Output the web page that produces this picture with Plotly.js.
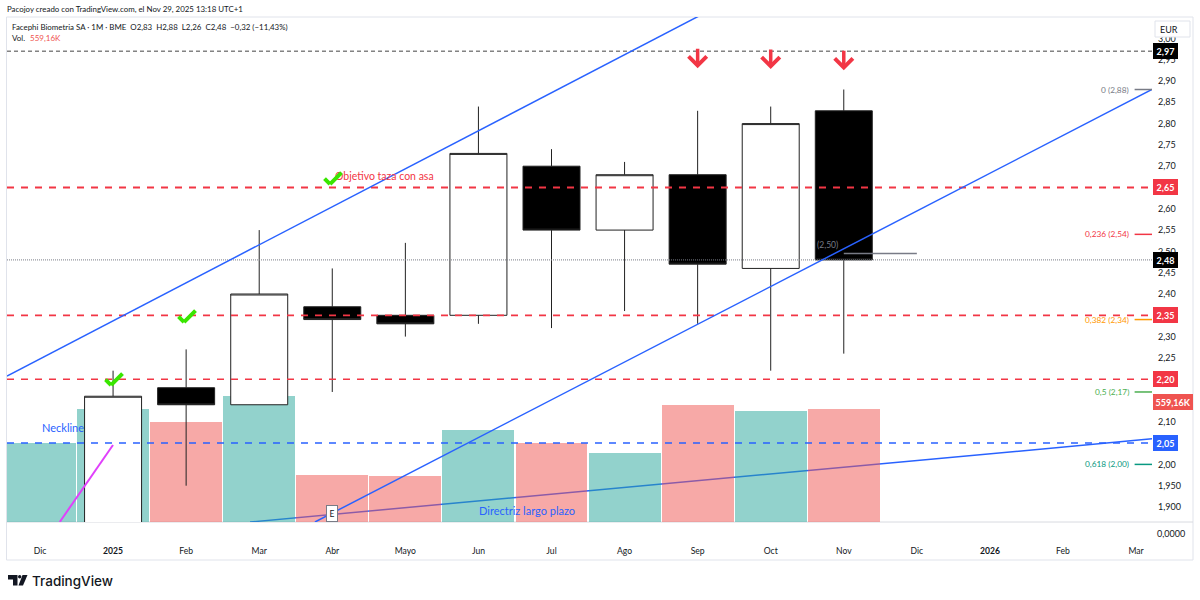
<!DOCTYPE html>
<html><head><meta charset="utf-8">
<script src="https://cdn.plot.ly/plotly-3.0.1.min.js"></script>
<style>html,body{margin:0;padding:0;background:#fff}#c{width:1200px;height:600px}</style>
</head><body><div id="c"></div>
<script>
// ---- data -----------------------------------------------------------------
const tickIndex = [0,1,2,3,4,5,6,7,8,9,10,11,12,13,14,15];
const tickLabels = ['Dic','<b>2025</b>','Feb','Mar','Abr','Mayo','Jun','Jul','Ago','Sep','Oct','Nov','Dic','<b>2026</b>','Feb','Mar'];
const volIndex = [0,1,2,3,4,5,6,7,8,9,10,11];
const volumeK = [391,559,495,623,233,228,455,391,341,579,549,559.16];
const volumeUp = [1,1,0,1,0,0,1,0,1,0,1,0];
const candleIndex = [1,2,3,4,5,6,7,8,9,10,11];
const open  = [1.84,2.18,2.14,2.37,2.35,2.35,2.70,2.55,2.68,2.46,2.83];
const high  = [2.22,2.27,2.55,2.46,2.52,2.84,2.74,2.71,2.83,2.84,2.88];
const low   = [1.84,1.95,2.14,2.17,2.30,2.33,2.32,2.36,2.33,2.22,2.26];
const close = [2.16,2.14,2.40,2.34,2.33,2.73,2.55,2.68,2.47,2.80,2.48];
const priceTicks = [3.00,2.95,2.90,2.85,2.80,2.75,2.70,2.65,2.60,2.55,2.50,2.45,2.40,2.35,2.30,2.25,2.20,2.15,2.10,2.05,2.00,1.95,1.90];
const priceTickText = ['3,00','2,95','2,90','2,85','2,80','2,75','2,70','2,65','2,60','2,55','2,50','2,45','2,40','2,35','2,30','2,25','2,20','2,15','2,10','2,05','2,00','1,950','1,900'];
const levelSpan = [-0.4516,15.218];
const levelTop = 2.97, levelLast = 2.48;
const levelsRed = [2.65,2.35,2.20];
const levelBlue = 2.05;
const upperChannelX = [-0.4516,9.05], upperChannelY = [2.2075,3.0554];
const lowerChannelX = [3.763,15.218], lowerChannelY = [1.8648,2.88];
const directrizX = [2.874,15.218], directrizY = [1.8648,2.06];
const magentaX = [0.27,0.999], magentaY = [1.8648,2.0455];
const fibSpan = [14.98,15.218];
const fibPrices = [2.88,2.54,2.34,2.17,2.00];
const fibLabels = ['0 (2,88)','0,236 (2,54)','0,382 (2,34)','0,5 (2,17)','0,618 (2,00)'];
const fibColors = ['#787b86','#f23645','#ff9800','#4caf50','#089981'];
const avgSpan = [11,12], avgPrice = 2.495;
const checkIndex = [0.972,1.971,3.969], checkPrice = [2.186,2.334,2.658];
const arrowIndex = [9,10,11], arrowPrice = [2.93,2.928,2.925];

// ---- frame geometry ---------------------------------------------------------
const L=7,R=1152,T=17,B=522;
const px=x=>(x-L)/(R-L), py=y=>(B-y)/(B-T);
const FONT='Lato, "Noto Sans", sans-serif';
const TXT='#131722';

const line=(x,y,color,width,dash,axis)=>({type:'scatter',mode:'lines',x,y,yaxis:axis||'y3',
  line:{color,width,dash:dash||'solid'},hoverinfo:'skip',showlegend:false,cliponaxis:true});

const traces=[];
traces.push(line(directrizX,directrizY,'#2962ff',1.5,null,'y'));
traces.push({type:'bar',x:volIndex,y:volumeK,width:0.985,yaxis:'y2',
  marker:{color:volumeUp.map(u=>u?'rgba(38,166,154,0.5)':'rgba(239,83,80,0.5)'),line:{width:0}},
  hoverinfo:'skip',showlegend:false});
traces.push({type:'candlestick',x:candleIndex,open,high,low,close,yaxis:'y3',whiskerwidth:0,
  increasing:{line:{color:'#222',width:1},fillcolor:'#ffffff'},
  decreasing:{line:{color:'#222',width:1},fillcolor:'#000000'},
  hoverinfo:'skip',showlegend:false});
traces.push(line(levelSpan,[levelTop,levelTop],'#444',1,'4px,3px'));
traces.push(line(levelSpan,[levelLast,levelLast],'#787b86',1,'1px,1px'));
levelsRed.forEach((v,i)=>traces.push(line(levelSpan,[v,v],'#f23645',i==2?1.5:1.8,'7px,7px')));
traces.push(line(levelSpan,[levelBlue,levelBlue],'#2962ff',1.5,'7px,7px'));
traces.push(line(upperChannelX,upperChannelY,'#2962ff',1.5));
traces.push(line(lowerChannelX,lowerChannelY,'#2962ff',1.5));
traces.push(line(magentaX,magentaY,'#e040fb',2));
traces.push(line(avgSpan,[avgPrice,avgPrice],'#787b86',1.5));
fibPrices.forEach((v,i)=>traces.push(line(fibSpan,[v,v],fibColors[i],1.5)));

const annotations=[];
const txt=(x,y,text,o={})=>annotations.push(Object.assign({xref:'paper',yref:'paper',x:px(x),y:py(y),text,showarrow:false,
  xanchor:'left',yanchor:'middle',font:Object.assign({family:FONT,size:9.5,color:TXT},o.font||{})},o.a||{}));

txt(5,9,'Pacojoy creado con TradingView.com, el Nov 29, 2025 13:18 UTC+1',{font:{size:7.9}});
txt(10,27,'Facephi Biometria SA · 1M · BME&nbsp;&nbsp;O2,83&nbsp;&nbsp;H2,88&nbsp;&nbsp;L2,26&nbsp;&nbsp;C2,48&nbsp;&nbsp;−0,32 (−11,43%)',{font:{size:7.9}});
txt(10,38,'Vol.',{font:{size:8}});
txt(28,38,'559,16K',{font:{size:8,color:'#ef5350'}});
// text on the chart
annotations.push({xref:'x',yref:'y3',x:(384-40)/73.07,y:2.676,text:'Objetivo taza con asa',showarrow:false,font:{family:FONT,size:10.5,color:'#f23645'}});
txt(40,427,'Neckline',{font:{size:11,color:'#2962ff'}});
txt(477,510,'Directriz largo plazo',{font:{size:11,color:'#2962ff'}});
txt(815,245,'(2,50)',{font:{size:8.5,color:'#787b86'}});
annotations.push({xref:'x',yref:'y3',x:4,y:1.885,text:'E',showarrow:false,font:{family:FONT,size:8.5,color:TXT},bgcolor:'#fff',bordercolor:'#787b86',borderwidth:1,borderpad:2.5});
// check marks: two short strokes leaving the data anchor
checkIndex.forEach((c,i)=>{
  [[-7,-7],[13,-13]].forEach(d=>annotations.push({xref:'x',yref:'y3',x:c,y:checkPrice[i],text:'',showarrow:true,arrowhead:0,arrowwidth:4,arrowcolor:'#39e600',ax:d[0],ay:d[1],standoff:0}));
});
// red arrows
arrowIndex.forEach((c,i)=>annotations.push({xref:'x',yref:'y3',x:c,y:arrowPrice[i],text:'',showarrow:true,arrowhead:4,arrowwidth:3.5,arrowsize:1,arrowcolor:'#f23645',ax:0,ay:-21,standoff:0}));
// fib labels
fibPrices.forEach((v,i)=>annotations.push({xref:'paper',yref:'y3',x:px(1131),y:v,text:fibLabels[i],showarrow:false,xanchor:'right',font:{family:FONT,size:8.3,color:fibColors[i]}}));
// scale tags
const tag=(v,t,bg)=>annotations.push({xref:'paper',yref:'y3',x:px(1153),y:v,text:'<b>'+t+'</b>',showarrow:false,xanchor:'left',font:{family:FONT,size:9,color:'#fff'},bgcolor:bg,borderpad:1.5,bordercolor:bg,borderwidth:1,width:20});
tag(levelTop,'2,97','#000');
tag(levelLast,'2,48','#000');
tag(2.65,'2,65','#f23645');
tag(2.35,'2,35','#f23645');
tag(2.20,'2,20','#f23645');
tag(2.05,'2,05','#2962ff');
annotations.push({xref:'paper',yref:'paper',x:px(1153),y:py(409.5),text:'<b>559,16K</b>',showarrow:false,xanchor:'left',font:{family:FONT,size:9,color:'#fff'},bgcolor:'#ef5350',borderpad:1.5,bordercolor:'#ef5350',borderwidth:1});
txt(1155,533,'0,0000',{font:{size:9}});
txt(1158,29,'EUR',{font:{size:9}});
txt(30,580.5,'TradingView',{font:{family:'Inter, Roboto, sans-serif',size:13.5,weight:500,color:'#131722'}});

// frame + logo
const seg=(x0,y0,x1,y1,c)=>({type:'line',xref:'paper',yref:'paper',x0:px(x0),y0:py(y0),x1:px(x1),y1:py(y1),line:{color:c||'#e0e3eb',width:1},layer:'below'});
const poly=pts=>'M'+pts.map(p=>px(p[0])+','+py(p[1])).join('L')+'Z';
const shapes=[
  seg(6.5,17,1193,17),seg(6.5,17,6.5,560),seg(1193,17,1193,560),seg(6.5,560,1193,560),seg(6.5,522,1193,522,'#d8dae0'),
  {type:'rect',xref:'paper',yref:'paper',x0:px(1155),x1:px(1190),y0:py(21),y1:py(37),fillcolor:'#fff',line:{color:'#e0e3eb',width:1},layer:'above'},
  {type:'path',xref:'paper',yref:'paper',path:poly([[8,575],[17.5,575],[17.5,585.5],[13,585.5],[13,579.5],[8,579.5]]),fillcolor:'#131722',line:{width:0}},
  {type:'path',xref:'paper',yref:'paper',path:poly([[22.5,575],[27.5,575],[23,585.5],[18.5,585.5]]),fillcolor:'#131722',line:{width:0}},
  {type:'circle',xref:'paper',yref:'paper',x0:px(18),x1:px(21.4),y0:py(575),y1:py(578.4),fillcolor:'#131722',line:{width:0}}
];

const layout={
  width:1200,height:600,autosize:false,
  margin:{l:L,r:1200-R,t:T,b:600-B,pad:0},
  paper_bgcolor:'#fff',plot_bgcolor:'#fff',showlegend:false,
  font:{family:FONT,size:9,color:TXT},separators:',.',
  boxgap:0.22,boxgroupgap:0,bargap:0,
  xaxis:{type:'linear',range:[-0.4516,15.218],tickmode:'array',tickvals:tickIndex,ticktext:tickLabels,
    showgrid:false,zeroline:false,showline:false,ticks:'',ticklabelstandoff:22,tickfont:{family:FONT,size:8.6,color:TXT},rangeslider:{visible:false},fixedrange:true},
  yaxis:{range:[1.8648,3.0502],visible:false,fixedrange:true},
  yaxis2:{range:[0,2499],overlaying:'y',visible:false,fixedrange:true},
  yaxis3:{range:[1.8648,3.0502],overlaying:'y',side:'right',tickmode:'array',tickvals:priceTicks,ticktext:priceTickText,
    showgrid:false,zeroline:false,showline:false,ticks:'',ticklabelstandoff:5,tickfont:{family:FONT,size:9,color:TXT},fixedrange:true},
  shapes,annotations
};
Plotly.newPlot('c',traces,layout,{displayModeBar:false,staticPlot:true});
</script></body></html>
